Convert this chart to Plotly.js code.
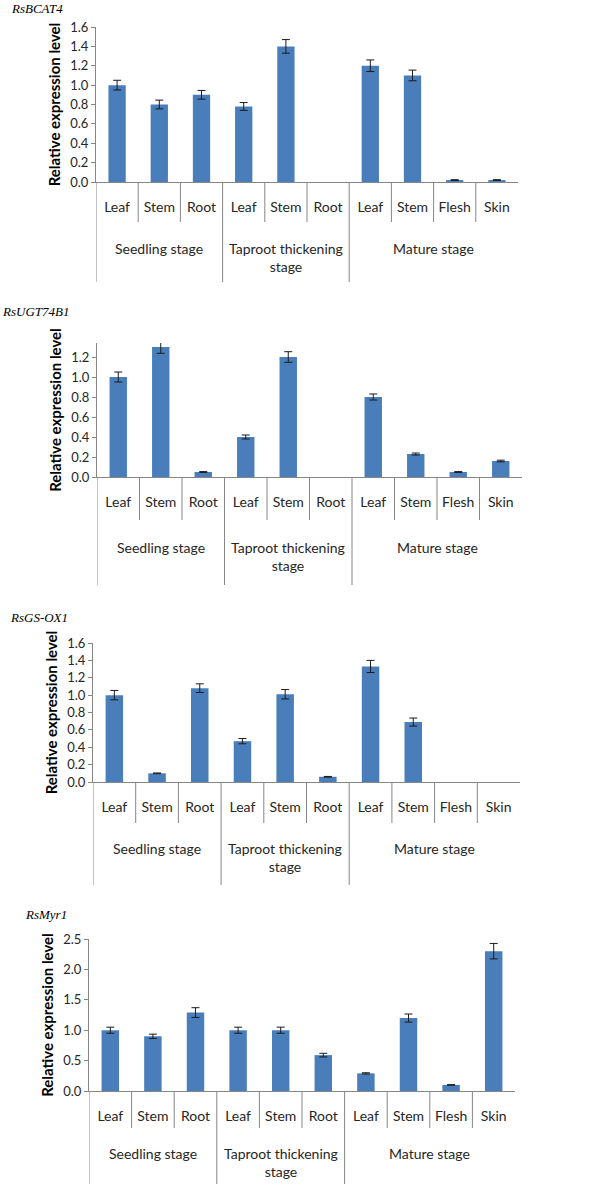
<!DOCTYPE html>
<html>
<head>
<meta charset="utf-8">
<script src="https://cdn.plot.ly/plotly-3.0.1.min.js"></script>
<style>
  html, body { margin: 0; padding: 0; background: #ffffff; }
  #chart { width: 600px; height: 1184px; }
</style>
</head>
<body>
<div id="chart"></div>
<script>
// ---------- data ----------
const categories = ['Leaf', 'Stem', 'Root', 'Leaf', 'Stem', 'Root', 'Leaf', 'Stem', 'Flesh', 'Skin'];
const stageOf = [0, 0, 0, 1, 1, 1, 2, 2, 2, 2];
const stages = ['Seedling stage', 'Taproot thickening<br>stage', 'Mature stage'];
const genes = ['RsBCAT4', 'RsUGT74B1', 'RsGS-OX1', 'RsMyr1'];

const bcat4 = [1.00, 0.80, 0.90, 0.78, 1.40, 0, 1.20, 1.10, 0.02, 0.02];
const bcat4Err = [0.05, 0.045, 0.045, 0.04, 0.07, null, 0.06, 0.055, 0.004, 0.004];

const ugt74b1 = [1.00, 1.30, 0.05, 0.40, 1.20, 0, 0.80, 0.23, 0.05, 0.16];
const ugt74b1Err = [0.05, 0.063, 0.004, 0.02, 0.053, null, 0.03, 0.01, 0.004, 0.008];

const gsox1 = [1.00, 0.10, 1.08, 0.47, 1.01, 0.06, 1.33, 0.69, 0, 0];
const gsox1Err = [0.054, 0.004, 0.05, 0.03, 0.054, 0.004, 0.07, 0.046, null, null];

const myr1 = [1.00, 0.90, 1.29, 1.00, 1.00, 0.59, 0.29, 1.20, 0.10, 2.30];
const myr1Err = [0.05, 0.035, 0.08, 0.05, 0.05, 0.03, 0.01, 0.066, 0.005, 0.127];

const yMax = [1.6, 1.34, 1.6, 2.5];
const yStep = [0.2, 0.2, 0.2, 0.5];

const seriesValues = [bcat4, ugt74b1, gsox1, myr1];
const seriesErrors = [bcat4Err, ugt74b1Err, gsox1Err, myr1Err];

// ---------- geometry (pixels on a 600x1184 page) ----------
const W = 600, H = 1184;
const panels = [
  { x0: 96, x1: 518, top: 27,  bot: 182,  shortB: 222,  longB: 282,  groupY: 248,  tX: 9,  tY: 8 },
  { x0: 97, x1: 522, top: 343, bot: 477,  shortB: 520,  longB: 585,  groupY: 547,  tX: 0,  tY: 312 },
  { x0: 93, x1: 520, top: 643, bot: 782,  shortB: 823,  longB: 885,  groupY: 848,  tX: 8,  tY: 617 },
  { x0: 89, x1: 515, top: 939, bot: 1091, shortB: 1128, longB: 1184, groupY: 1153, tX: 23, tY: 914 }
];

const axisColor = '#868686';
const textColor = '#262626';
const barColor = '#4a7ebb';
const sansFont = 'Lato, "Open Sans", sans-serif';

const py = v => 1 - v / H;
const px = v => v / W;

const traces = [];
const layout = {
  width: W, height: H,
  margin: { l: 0, r: 0, t: 0, b: 0 },
  paper_bgcolor: '#ffffff',
  plot_bgcolor: '#ffffff',
  showlegend: false,
  bargap: 0.59,
  font: { family: sansFont, color: textColor },
  shapes: [],
  annotations: []
};

panels.forEach((p, i) => {
  const n = i + 1;
  const xa = 'x' + (n === 1 ? '' : n);
  const ya = 'y' + (n === 1 ? '' : n);
  const xKey = 'xaxis' + (n === 1 ? '' : n);
  const yKey = 'yaxis' + (n === 1 ? '' : n);
  const idx = categories.map((c, k) => k);

  traces.push({
    type: 'bar',
    x: idx,
    y: seriesValues[i],
    xaxis: xa, yaxis: ya,
    marker: { color: barColor, line: { width: 0 } },
    error_y: {
      type: 'data',
      array: seriesErrors[i].map(e => (e === null ? NaN : e)),
      visible: true,
      color: '#1a1a1a',
      thickness: 1,
      width: 4
    },
    hoverinfo: 'skip'
  });

  layout[xKey] = {
    domain: [px(p.x0), px(p.x1)],
    anchor: ya,
    range: [-0.5, categories.length - 0.5],
    tickmode: 'array',
    tickvals: idx,
    ticktext: categories,
    ticks: '',
    ticklabelstandoff: 12,
    tickfont: { family: sansFont, size: 14, color: textColor },
    showline: true, linecolor: axisColor, linewidth: 1,
    showgrid: false, zeroline: false, fixedrange: true
  };
  layout[yKey] = {
    domain: [py(p.bot), py(p.top)],
    anchor: xa,
    range: [0, yMax[i]],
    tick0: 0, dtick: yStep[i],
    tickformat: '.1f',
    ticks: 'outside', ticklen: 4, tickcolor: axisColor,
    tickfont: { family: sansFont, size: 13, color: textColor },
    showline: true, linecolor: axisColor, linewidth: 1,
    showgrid: false, zeroline: false, fixedrange: true,
    title: {
      text: '<b>Relative expression level</b>',
      font: { family: sansFont, size: 15, color: '#000000' },
      standoff: 5
    }
  };

  // separators below the axis: short ones inside a stage, long ones at stage starts
  for (let k = 0; k < categories.length; k++) {
    const isStart = k === 0 || stageOf[k] !== stageOf[k - 1];
    layout.shapes.push({
      type: 'line', xref: xa, yref: 'paper',
      x0: k - 0.5, x1: k - 0.5,
      y0: py(p.bot), y1: py(isStart ? p.longB : p.shortB),
      line: { color: axisColor, width: 1 }
    });
  }

  // stage labels centred under their categories
  stages.forEach((s, g) => {
    const members = idx.filter(k => stageOf[k] === g);
    const centre = (members[0] + members[members.length - 1]) / 2;
    layout.annotations.push({
      xref: xa, yref: 'paper',
      x: centre, y: py(p.groupY - 10),
      xanchor: 'center', yanchor: 'top',
      text: s, showarrow: false,
      font: { family: sansFont, size: 14, color: textColor }
    });
  });

  // gene name
  layout.annotations.push({
    xref: 'paper', yref: 'paper',
    x: px(p.tX), y: py(p.tY),
    xanchor: 'left', yanchor: 'middle',
    text: '<i>' + genes[i] + '</i>', showarrow: false,
    font: { family: '"Liberation Serif", "Times New Roman", serif', size: 13, color: '#000000' }
  });
});

Plotly.newPlot('chart', traces, layout, { staticPlot: true, displayModeBar: false });
</script>
</body>
</html>
